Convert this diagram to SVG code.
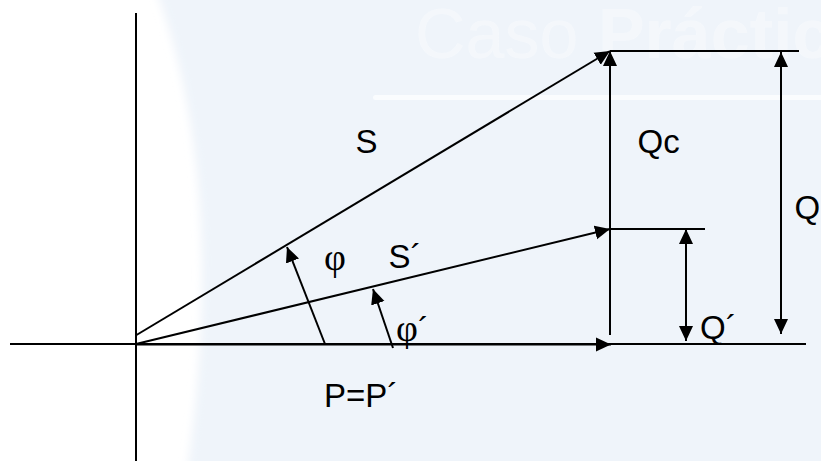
<svg xmlns="http://www.w3.org/2000/svg" width="821" height="461" viewBox="0 0 821 461">
<defs>
<marker id="ah" markerUnits="userSpaceOnUse" markerWidth="16" markerHeight="16" viewBox="0 0 16 16" refX="15" refY="8" orient="auto-start-reverse">
<path d="M0,1 L15,8 L0,15 Z" fill="#000"/>
</marker>
<filter id="soft" x="-0.1" y="-0.1" width="1.2" height="1.2"><feGaussianBlur stdDeviation="4"/></filter>
<style>
.ln{stroke:#000;stroke-width:2;fill:none}
.vec{stroke:#000;stroke-width:2;fill:none;marker-end:url(#ah)}
.dbl{stroke:#000;stroke-width:2;fill:none;marker-start:url(#ah);marker-end:url(#ah)}
.lbl{font-family:"Liberation Sans",Arial,sans-serif;font-size:33px;fill:#000}
.grk{font-family:"Liberation Serif","Times New Roman",serif;font-size:38px;fill:#000}
.wm{font-family:"Liberation Sans",Arial,sans-serif;font-size:70px;fill:#fff}
</style>
</defs>
<g id="background">
<rect x="0" y="0" width="821" height="461" fill="#fff"/>
<path d="M152,-20 C210,130 212,300 186,480 L840,480 L840,-20 Z" fill="#EFF4FA" filter="url(#soft)"/>
<text class="wm" x="415" y="58" opacity="0.35">Caso <tspan font-weight="bold" opacity="1">Práctico</tspan></text>
<rect x="373" y="95" width="460" height="5" rx="2.5" fill="#fff" opacity="0.7"/>
</g>
<g id="axes">
<line class="ln" x1="136" y1="13" x2="136" y2="461"/>
<line class="ln" x1="10" y1="344" x2="806" y2="344"/>
</g>
<g id="connectors">
<line class="vec" x1="136.5" y1="335" x2="610" y2="51"/>
<line class="vec" x1="136" y1="344" x2="610" y2="229"/>
<line class="vec" x1="136" y1="344.5" x2="611" y2="344.5" stroke-width="3.5"/>
<line class="vec" x1="610" y1="335" x2="610" y2="51"/>
<line class="ln" x1="610" y1="51" x2="799" y2="51"/>
<line class="ln" x1="610" y1="229" x2="705" y2="229"/>
<line class="dbl" x1="781" y1="52" x2="781" y2="334"/>
<line class="dbl" x1="686" y1="229" x2="686" y2="341"/>
<line class="vec" x1="325" y1="344" x2="287" y2="247"/>
<line class="vec" x1="393" y1="348" x2="373" y2="289"/>
</g>
<g id="label-S"><text class="lbl" x="355.5" y="153">S</text></g>
<g id="label-Qc"><text class="lbl" x="637.5" y="153">Qc</text></g>
<g id="label-Q"><text class="lbl" x="794.5" y="219">Q</text></g>
<g id="label-S2"><text class="lbl" x="388.5" y="268">S´</text></g>
<g id="label-Q2"><text class="lbl" x="700" y="339">Q´</text></g>
<g id="label-P"><text class="lbl" x="324" y="407">P=P´</text></g>
<g id="label-phi"><text class="grk" x="324" y="270">φ</text></g>
<g id="label-phi2"><text class="grk" x="396" y="341">φ<tspan font-family="Liberation Sans, Arial, sans-serif" font-size="33">´</tspan></text></g>
</svg>
